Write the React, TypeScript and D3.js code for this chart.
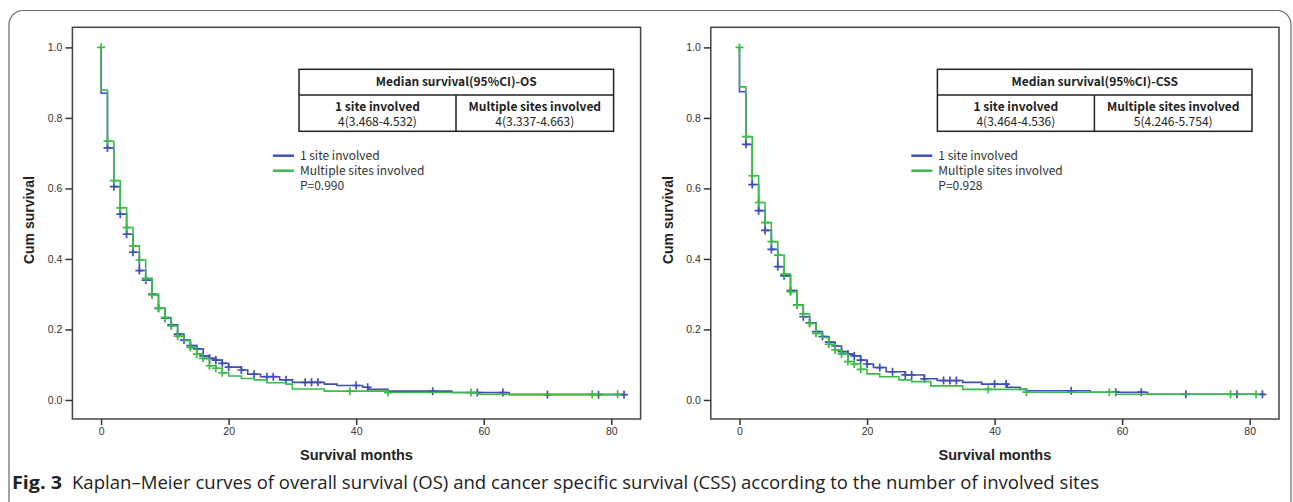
import * as d3 from 'd3'
import React, { useRef, useEffect } from 'react'

// ticks
const xTicks = [0, 20, 40, 60, 80]
const yTicks = [0, 0.2, 0.4, 0.6, 0.8, 1.0]

// OS - 1 site involved
const osOneTimes = [0, 1, 2, 3, 4, 5, 6, 7, 8, 9, 10, 11, 12, 13, 14, 15, 16, 17, 18, 19, 20, 22, 23, 25, 28, 30, 35, 37, 41, 42, 45, 55, 64]
const osOneSurv = [0.870, 0.715, 0.605, 0.527, 0.470, 0.419, 0.367, 0.340, 0.300, 0.260, 0.232, 0.213, 0.187, 0.170, 0.154, 0.145, 0.125, 0.118, 0.113, 0.104, 0.093, 0.085, 0.073, 0.066, 0.057, 0.050, 0.045, 0.041, 0.036, 0.030, 0.025, 0.021, 0.015]
const osOneCensor = [1, 2, 3, 4, 5, 6, 7, 8, 9, 10, 11, 12, 13, 14, 15, 16, 17, 18, 19, 20, 22, 24, 26, 27, 29, 32, 33, 34, 40, 41.8, 52, 59, 63, 70, 78, 82]

// OS - multiple sites involved
const osMultiTimes = [0, 1, 2, 3, 4, 5, 6, 7, 8, 9, 10, 11, 12, 13, 14, 15, 16, 17, 18, 19, 20, 22, 24, 26, 29, 30, 35, 45, 59]
const osMultiSurv = [0.879, 0.734, 0.622, 0.545, 0.489, 0.437, 0.397, 0.345, 0.298, 0.260, 0.234, 0.210, 0.181, 0.168, 0.149, 0.130, 0.118, 0.097, 0.090, 0.077, 0.068, 0.061, 0.057, 0.049, 0.045, 0.031, 0.025, 0.021, 0.016]
const osMultiCensor = [0, 1, 2, 3, 4, 5, 6, 7, 8, 9, 10, 11, 12, 14, 15, 16, 17, 18, 19, 39, 45, 58, 77, 81]

// CSS - 1 site involved
const cssOneTimes = [0, 1, 2, 3, 4, 5, 6, 7, 8, 9, 10, 11, 12, 13, 14, 15, 16, 17, 18, 19, 20, 21, 23, 26, 29, 31, 35, 38, 42, 44, 45, 55, 64]
const cssOneSurv = [0.874, 0.725, 0.611, 0.537, 0.481, 0.427, 0.378, 0.352, 0.310, 0.269, 0.236, 0.219, 0.194, 0.180, 0.164, 0.153, 0.137, 0.130, 0.125, 0.113, 0.102, 0.092, 0.080, 0.071, 0.060, 0.055, 0.050, 0.045, 0.036, 0.030, 0.026, 0.022, 0.016]
const cssOneCensor = [1, 2, 3, 4, 5, 6, 7, 8, 9, 10, 11, 12, 13, 14, 15, 16, 17, 18, 19, 20, 22, 24, 26, 27, 29, 32, 33, 34, 40, 41.8, 52, 59, 63, 70, 78, 82]

// CSS - multiple sites involved
const cssMultiTimes = [0, 1, 2, 3, 4, 5, 6, 7, 8, 9, 10, 11, 12, 13, 14, 15, 16, 17, 18, 19, 20, 22, 25, 27, 30, 35, 45, 59]
const cssMultiSurv = [0.888, 0.747, 0.636, 0.560, 0.503, 0.449, 0.411, 0.357, 0.307, 0.269, 0.244, 0.217, 0.189, 0.177, 0.158, 0.142, 0.130, 0.109, 0.102, 0.087, 0.074, 0.066, 0.057, 0.052, 0.040, 0.030, 0.022, 0.016]
const cssMultiCensor = [0, 1, 2, 3, 4, 5, 6, 7, 8, 9, 10, 11, 12, 14, 15, 16, 17, 18, 19, 39, 45, 58, 77, 81]

const groupNames = ['1 site involved', 'Multiple sites involved']
const osMedians = ['4(3.468-4.532)', '4(3.337-4.663)']
const cssMedians = ['4(3.464-4.536)', '5(4.246-5.754)']

const BLUE = '#3f50b5'
const GREEN = '#3cbb4a'
const CJK = '"Noto Sans CJK SC", "Noto Sans", sans-serif'
const ARIAL = '"Liberation Sans", Arial, sans-serif'

const frame = { top: 27.3, bottom: 419, width: 568.2 }
const plotH = frame.bottom - frame.top

function survAt(times: number[], surv: number[], t: number) {
    if (t <= 0) return 1
    let s = 1
    for (let i = 0; i < times.length; i++) if (times[i] <= t) s = surv[i]
    return s
}

const KMPanel = (props: any) => {
    const xAxisRef = useRef(null)
    const yAxisRef = useRef(null)

    const x = d3.scaleLinear().domain([-4.5, 84.6]).range([0, frame.width])
    const y = d3.scaleLinear().domain([-0.054, 1.057]).range([plotH, 0])

    useEffect(() => {
        const ya = d3.select(yAxisRef.current)
        ya.call(d3.axisLeft(y).tickValues(yTicks).tickFormat(d3.format('.1f')).tickSize(7).tickPadding(3) as any)
        ya.select('.domain').remove()
        ya.attr('font-size', 10.5).attr('font-family', ARIAL).attr('color', '#333')
        ya.selectAll('line').attr('stroke-width', 1.5)

        const xa = d3.select(xAxisRef.current)
        xa.call(d3.axisBottom(x).tickValues(xTicks).tickFormat(d3.format('d')).tickSize(6).tickPadding(3) as any)
        xa.select('.domain').remove()
        xa.attr('font-size', 10.5).attr('font-family', ARIAL).attr('color', '#333')
        xa.selectAll('line').attr('stroke-width', 1.5)
    }, [])

    const line = d3.line<number[]>()
        .x(d => x(d[0]))
        .y(d => y(d[1]))
        .curve(d3.curveStepAfter)

    const series = props.series.map((s: any) => {
        const pts = [[0, 1], ...s.times.map((t: number, i: number) => [t, s.surv[i]])]
        const end = d3.max(s.censor as number[]) as number
        pts.push([end, s.surv[s.surv.length - 1]])
        const marks = s.censor.map((c: number) => {
            const px = x(c), py = y(survAt(s.times, s.surv, c))
            return `M${px - 4},${py}h8M${px},${py - 4}v8`
        }).join('')
        return { d: line(pts as any), marks, color: s.color }
    })

    const tl = 226.6, tw = 314.6, tdiv = 157
    const legX = 227.5

    return (
        <g transform={`translate(${props.left},${frame.top})`}>
            <rect x={0} y={0} width={frame.width} height={plotH} fill="white" stroke="#444" strokeWidth={1.5} />
            <g ref={yAxisRef} />
            <g ref={xAxisRef} transform={`translate(0,${plotH})`} />
            <text transform={`translate(-38,${plotH / 2 - 3}) rotate(-90)`} textAnchor="middle"
                fontFamily={ARIAL} fontWeight="bold" fontSize={14} fill="#222">Cum survival</text>
            <text x={frame.width / 2} y={plotH + 41} textAnchor="middle"
                fontFamily={ARIAL} fontWeight="bold" fontSize={14.5} fill="#222">Survival months</text>

            {series.map((s: any, i: number) => (
                <g key={i}>
                    <path d={s.d} fill="none" stroke={s.color} strokeWidth={1.6} />
                    <path d={s.marks} fill="none" stroke={s.color} strokeWidth={1.7} />
                </g>
            ))}

            {/* median survival table */}
            <g fontFamily={CJK} fontSize={12} fill="#222" textAnchor="middle">
                <rect x={tl} y={42} width={tw} height={62} fill="white" stroke="#222" strokeWidth={1.5} />
                <line x1={tl} x2={tl + tw} y1={67.7} y2={67.7} stroke="#222" strokeWidth={1.5} />
                <line x1={tl + tdiv} x2={tl + tdiv} y1={67.7} y2={104} stroke="#222" strokeWidth={1.5} />
                <text x={tl + tw / 2} y={58.5} fontWeight="bold">{props.title}</text>
                <text x={tl + tdiv / 2} y={83.5} fontWeight="bold">{groupNames[0]}</text>
                <text x={tl + tdiv + (tw - tdiv) / 2} y={83.5} fontWeight="bold">{groupNames[1]}</text>
                <text x={tl + tdiv / 2} y={98.5}>{props.medians[0]}</text>
                <text x={tl + tdiv + (tw - tdiv) / 2} y={98.5}>{props.medians[1]}</text>
            </g>

            {/* legend */}
            <g fontFamily={CJK} fontSize={12} fill="#333">
                <line x1={legX - 27} x2={legX - 6} y1={128.4} y2={128.4} stroke={BLUE} strokeWidth={2.5} />
                <line x1={legX - 27} x2={legX - 6} y1={143.4} y2={143.4} stroke={GREEN} strokeWidth={2.5} />
                <text x={legX} y={132.7}>{groupNames[0]}</text>
                <text x={legX} y={147.7}>{groupNames[1]}</text>
                <text x={legX} y={162.7}>{props.pValue}</text>
            </g>
        </g>
    )
}

export default function App() {
    return (
        <svg width={1293} height={502} style={{ position: 'absolute', left: 0, top: 0, background: 'white' }}>
            <rect x={9} y={10.5} width={1282} height={520} rx={14} fill="white" stroke="#666" strokeWidth={1.2} />
            <KMPanel left={72.4} title="Median survival(95%CI)-OS" medians={osMedians} pValue="P=0.990"
                series={[
                    { times: osOneTimes, surv: osOneSurv, censor: osOneCensor, color: BLUE },
                    { times: osMultiTimes, surv: osMultiSurv, censor: osMultiCensor, color: GREEN },
                ]} />
            <KMPanel left={710.8} title="Median survival(95%CI)-CSS" medians={cssMedians} pValue="P=0.928"
                series={[
                    { times: cssOneTimes, surv: cssOneSurv, censor: cssOneCensor, color: BLUE },
                    { times: cssMultiTimes, surv: cssMultiSurv, censor: cssMultiCensor, color: GREEN },
                ]} />
            <g fontFamily='"Open Sans", "Noto Sans", sans-serif' fontSize={18} fill="#222">
                <text x={12} y={489} fontWeight="bold" textLength={50} lengthAdjust="spacingAndGlyphs">Fig. 3</text>
                <text x={72} y={489} textLength={1027} lengthAdjust="spacingAndGlyphs">
                    Kaplan–Meier curves of overall survival (OS) and cancer specific survival (CSS) according to the number of involved sites
                </text>
            </g>
        </svg>
    )
}
